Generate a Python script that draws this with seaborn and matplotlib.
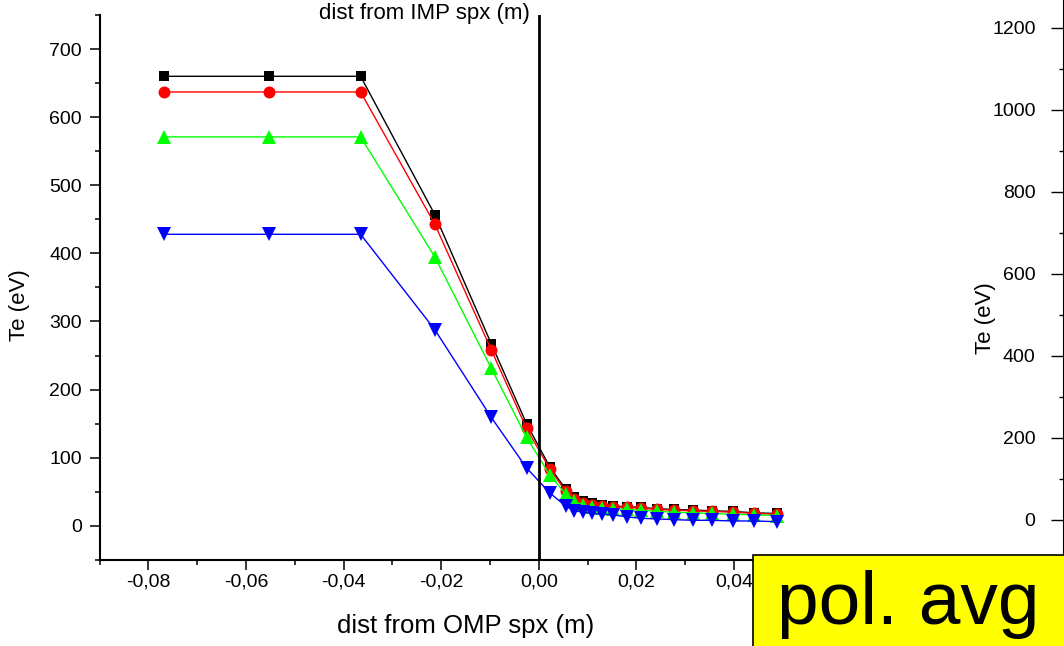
import matplotlib
matplotlib.use("Agg")
import matplotlib.pyplot as plt
from matplotlib.ticker import MultipleLocator, FuncFormatter, FixedLocator
from matplotlib.patches import Rectangle
import numpy as np
import pandas as pd
import seaborn as sns

# Distance from the outer-midplane separatrix (m)
dist_omp = [-0.0768, -0.0553, -0.0365, -0.0213, -0.0097, -0.0025, 0.0023,
            0.0055, 0.0072, 0.0090, 0.0109, 0.0129, 0.0152, 0.0181, 0.0209,
            0.0242, 0.0277, 0.0316, 0.0355, 0.0398, 0.0441, 0.0488]

# Electron temperature profiles (eV)
te_black = [660, 660, 660, 457, 267, 150, 86, 54, 42, 36, 33, 31, 29, 28,
            27, 25, 24, 23, 22, 21, 19, 18]
te_red = [637, 637, 637, 443, 258, 143, 83, 51, 40, 34, 31, 29, 28, 27,
          26, 24, 23, 22, 21, 20, 18, 17]
te_green = [571, 571, 571, 395, 231, 130, 74, 47, 36, 31, 28, 26, 25, 24,
            23, 21, 20, 19, 18, 17, 16, 15]
te_blue = [428, 428, 428, 288, 159, 85, 48, 29, 22, 20, 18, 17, 16, 13,
           11, 10, 9, 8, 8, 7, 7, 6]

x_ticks = [-0.08, -0.06, -0.04, -0.02, 0.00, 0.02, 0.04]
y_ticks = [0, 100, 200, 300, 400, 500, 600, 700]
y_ticks_right = [0, 200, 400, 600, 800, 1000, 1200]

sns.set_theme(style="white")
plt.rcParams["font.family"] = ["Liberation Sans", "DejaVu Sans"]

W, H = 1064, 646
fig = plt.figure(figsize=(W / 100, H / 100), dpi=100)

# main panel
ax = fig.add_axes([99.5 / W, (H - 559.8) / H, (831.5 - 99.5) / W, (559.8 - 15) / H])

series = [
    (te_black, "black", "s", 7.6),
    (te_red, "#ff0000", "o", 8.6),
    (te_green, "#00ff00", "^", 10),
    (te_blue, "#0000ff", "v", 10),
]
for vals, col, mk, ms in series:
    df = pd.DataFrame({"dist": dist_omp, "Te": vals})
    sns.lineplot(data=df, x="dist", y="Te", ax=ax, color=col, marker=mk,
                 markersize=ms, markeredgewidth=0, linewidth=1.0,
                 sort=False, errorbar=None, zorder=3)

ax.axvline(0.0, color="black", lw=2.0, zorder=4)

ax.set_xlim(-0.09, 0.06)
ax.set_ylim(-50, 750)
ax.xaxis.set_major_locator(FixedLocator(x_ticks))
ax.xaxis.set_minor_locator(MultipleLocator(0.01))
ax.yaxis.set_major_locator(FixedLocator(y_ticks))
ax.yaxis.set_minor_locator(MultipleLocator(50))
ax.xaxis.set_major_formatter(FuncFormatter(lambda v, p: f"{v:.2f}".replace(".", ",").replace("-0,00", "0,00")))
ax.yaxis.set_major_formatter(FuncFormatter(lambda v, p: f"{v:.0f}"))

for side in ("top", "right"):
    ax.spines[side].set_visible(False)
for side in ("left", "bottom"):
    ax.spines[side].set_color("black")
    ax.spines[side].set_linewidth(1.5)

ax.tick_params(axis="both", which="major", direction="out", length=7.2,
               width=1.1, color="black", labelsize=14, labelcolor="black")
ax.tick_params(axis="both", which="minor", direction="out", length=3.6,
               width=1.1, color="black")
ax.tick_params(axis="y", which="major", pad=5.5)
ax.tick_params(axis="x", which="major", pad=3)
ax.tick_params(axis="both", which="both", bottom=True, left=True)

ax.set_xlabel("dist from OMP spx (m)", fontsize=18.5, color="black")
ax.xaxis.set_label_coords(0.5, -0.1)
ax.xaxis.label.set_va("top")
ax.set_ylabel("")
fig.text(20 / W, 1 - 305 / H, "Te (eV)", rotation=90, ha="center",
         va="center", fontsize=16, color="black")

fig.text(424 / W, 1 - 14 / H, "dist from IMP spx (m)", ha="center",
         va="center", fontsize=16, color="black")

# neighbouring panel, only its value axis shows
ax2 = fig.add_axes([1064 / W, (H - 561) / H, 0.4, 574 / H])
ax2.set_ylim(-100, 1300)
ax2.set_xlim(0, 1)
ax2.set_xticks([])
ax2.yaxis.set_major_locator(FixedLocator(y_ticks_right))
ax2.yaxis.set_minor_locator(MultipleLocator(100))
for side in ("top", "right", "bottom"):
    ax2.spines[side].set_visible(False)
ax2.spines["left"].set_color("black")
ax2.spines["left"].set_linewidth(1.5)
ax2.tick_params(axis="y", which="major", direction="out", length=9.5,
                width=1.0, color="black", labelsize=14, labelcolor="black",
                pad=11, left=True)
ax2.tick_params(axis="y", which="minor", direction="out", length=3.6,
                width=1.0, color="black", left=True)
fig.text(985 / W, 1 - 318 / H, "Te (eV)", rotation=90, ha="center",
         va="center", fontsize=16, color="black")

# caption box
box = Rectangle((752.7 / W, -0.05), 0.5, (H - 555) / H + 0.05,
                transform=fig.transFigure, facecolor="#ffff00",
                edgecolor="black", linewidth=1.2, zorder=10)
fig.add_artist(box)
fig.text(777 / W, (H - 624) / H, "pol. avg", fontsize=54, ha="left",
         va="baseline", color="black", zorder=11)

fig.savefig("out.png", dpi=100, facecolor="white")
